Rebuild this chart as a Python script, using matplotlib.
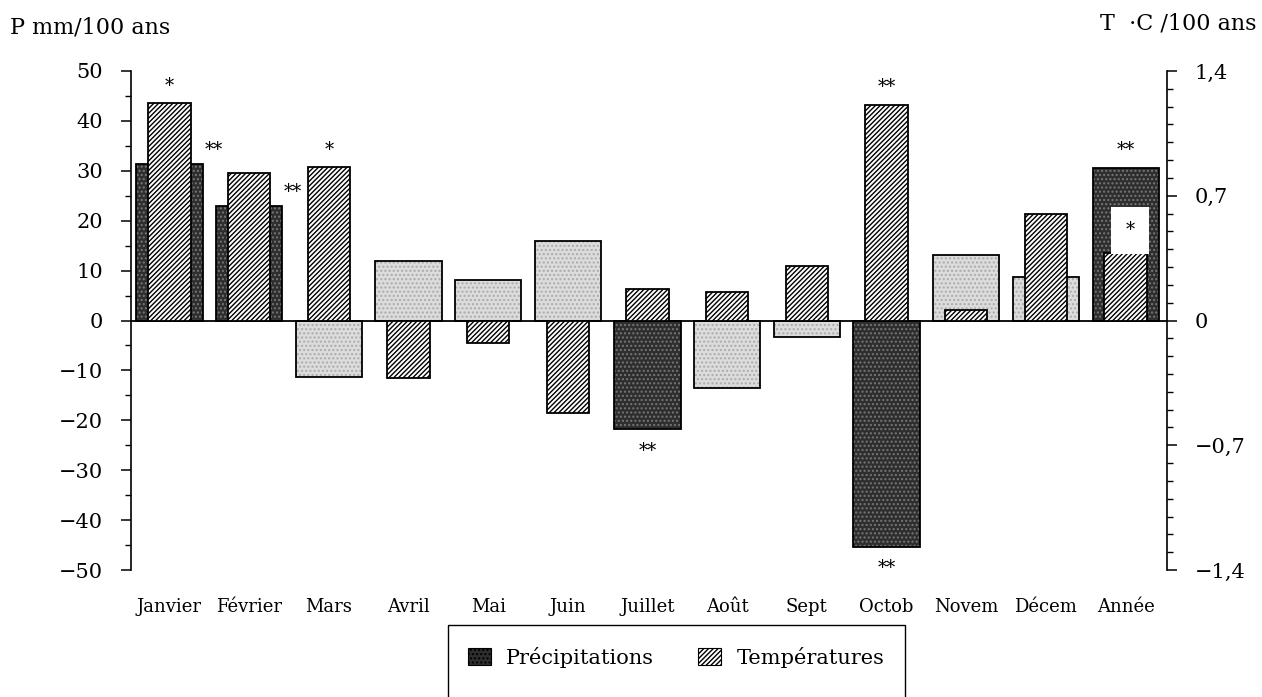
import matplotlib
matplotlib.use("Agg")
import matplotlib.pyplot as plt
from matplotlib.patches import Patch, Rectangle
from matplotlib.ticker import MultipleLocator, FixedLocator

# ---------------- data ----------------
months = ['Janvier', 'Février', 'Mars', 'Avril', 'Mai', 'Juin', 'Juillet',
          'Août', 'Sept', 'Octob', 'Novem', 'Décem', 'Année']
precip = [31.4, 23.0, -11.4, 11.9, 8.1, 16.0, -21.8, -13.6, -3.3, -45.3, 13.1, 8.8, 30.6]
temp = [1.22, 0.83, 0.86, -0.325, -0.127, -0.52, 0.175, 0.16, 0.305, 1.21, 0.058, 0.60, 0.376]
precip_sig = ['**', '**', '', '', '', '', '**', '', '', '**', '', '', '**']
temp_sig = ['*', '', '*', '', '', '', '', '', '', '**', '', '', '*']
left_ticks = [50, 40, 30, 20, 10, 0, -10, -20, -30, -40, -50]
right_ticks = [1.4, 0.7, 0, -0.7, -1.4]
right_labels = ['1,4', '0,7', '0', '\u22120,7', '\u22121,4']

FONT = 'DejaVu Serif'
plt.rcParams['font.family'] = [FONT]
plt.rcParams['hatch.linewidth'] = 1.0

W, H = 1262, 697
fig = plt.figure(figsize=(W / 100, H / 100), dpi=100)
ax = fig.add_axes([131 / W, 1 - 570 / H, (1167 - 131) / W, (570 - 71) / H])
ax2 = ax.twinx()

x = list(range(len(months)))
pw, tw = 0.83, 0.53

light_face, light_hatch = '#dcdcdc', '#ababab'
dark_face, dark_hatch = '#2e2e2e', '#777777'
faces = [dark_face if s else light_face for s in precip_sig]
hcols = [dark_hatch if s else light_hatch for s in precip_sig]
THATCH = '///////'

ax.bar(x, precip, pw, color=faces, edgecolor=hcols, linewidth=0, hatch='....', zorder=2)
ax.bar(x, precip, pw, fill=False, edgecolor='black', linewidth=1.3, zorder=3)
ax.axhline(0, color='black', lw=1.3, zorder=4)

ax.set_ylim(-50, 50)
ax.set_xlim(-0.483, 12.52)
ax2.set_ylim(-1.4, 1.4)

ax2.bar(x, temp, tw, color='white', edgecolor='black', linewidth=1.3, hatch=THATCH, zorder=3)

# spines
for a in (ax, ax2):
    a.spines['top'].set_visible(False)
    a.spines['bottom'].set_visible(False)
ax.spines['right'].set_visible(False)
ax2.spines['left'].set_visible(False)
ax.spines['left'].set_linewidth(1.2)
ax2.spines['right'].set_linewidth(1.2)

ax.yaxis.set_major_locator(FixedLocator(left_ticks))
ax.yaxis.set_minor_locator(MultipleLocator(5))
ax.set_yticklabels([str(v).replace('-', '\u2212') for v in left_ticks])
ax.tick_params(axis='y', which='major', length=7, width=1.1, pad=13, labelsize=15)
ax.tick_params(axis='y', which='minor', length=4, width=1.0)

ax2.yaxis.set_major_locator(FixedLocator(right_ticks))
ax2.yaxis.set_minor_locator(MultipleLocator(0.1))
ax2.set_yticklabels(right_labels)
ax2.tick_params(axis='y', which='major', length=7, width=1.1, pad=13, labelsize=15)
ax2.tick_params(axis='y', which='minor', length=4, width=1.0)

ax.set_xticks(x)
ax.set_xticklabels(months, fontsize=13)
ax.tick_params(axis='x', length=0, pad=20)

# significance stars
for i, (p, t, sp, st) in enumerate(zip(precip, temp, precip_sig, temp_sig)):
    tp = t * 50 / 1.4
    if st:
        if i == len(months) - 1:
            ax2.text(i + 0.06, t + 0.13, st, ha='center', va='center', fontsize=13,
                     zorder=6, bbox=dict(boxstyle='square,pad=0.8', fc='white', ec='none'))
        else:
            ax2.annotate(st, (i, t), xytext=(0, 9 if t > 0 else -17), textcoords='offset points',
                         ha='center', va='baseline', fontsize=13, zorder=6)
    if sp:
        if p > 0 and tp > p:
            ax.annotate(sp, (i + 0.55, p), xytext=(0, 6), textcoords='offset points',
                        ha='center', va='baseline', fontsize=13, zorder=6)
        elif p > 0:
            ax.annotate(sp, (i, p), xytext=(0, 9), textcoords='offset points',
                        ha='center', va='baseline', fontsize=13, zorder=6)
        else:
            ax.annotate(sp, (i, p), xytext=(0, -19), textcoords='offset points',
                        ha='center', va='baseline', fontsize=13, zorder=6)

# axis titles
fig.text(10 / W, 1 - 27 / H, 'P mm/100 ans', ha='left', va='center', fontsize=16)
fig.text(1256 / W, 1 - 24 / H, 'T  \u00b7C /100 ans', ha='right', va='center', fontsize=16)

# legend box
fig.patches.append(Rectangle((448 / W, -0.05), (905 - 448) / W, 0.05 + (697 - 625) / H,
                             transform=fig.transFigure, fill=False, edgecolor='black', lw=1.0))
handles = [Patch(facecolor=dark_face, edgecolor='black', hatch='....', lw=0.8, label='Précipitations'),
           Patch(facecolor='white', edgecolor='black', hatch=THATCH, lw=0.8, label='Températures')]
fig.legend(handles=handles, loc='center', bbox_to_anchor=(676 / W, 1 - 657 / H), ncol=2,
           frameon=False, fontsize=15, handlelength=1.1, handleheight=0.85,
           handletextpad=0.75, columnspacing=2.1)

fig.savefig('out.png', dpi=100)
